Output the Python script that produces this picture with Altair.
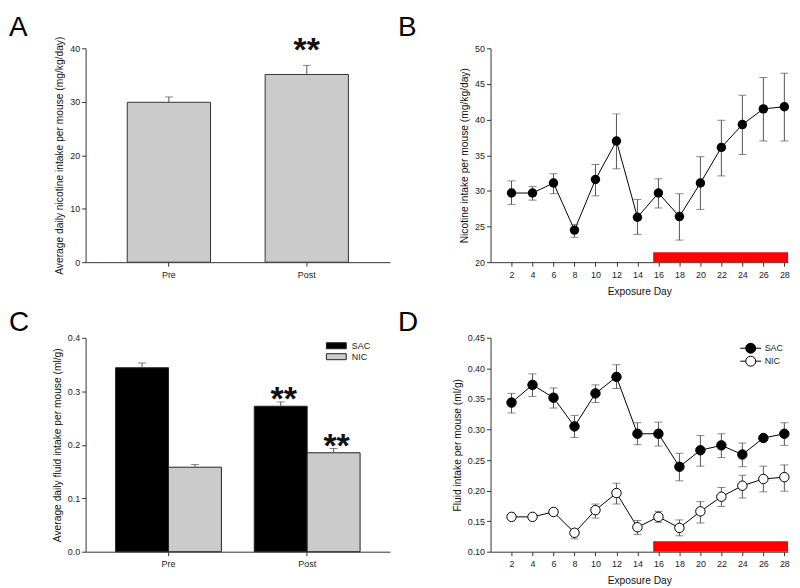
import altair as alt
import pandas as pd

FONT = "Liberation Sans"
LETTER_FONT = "Liberation Sans"
W, H = 306, 215
W_RIGHT = 299

# ---------------- data ----------------
a_phase = ["Pre", "Post"]
a_mean = [29.9, 35.1]
a_upper = [30.9, 36.8]
a_star_phase = ["Post"]
a_star_y = [37.6]

days = [2, 4, 6, 8, 10, 12, 14, 16, 18, 20, 22, 24, 26, 28]
b_mean = [29.7, 29.7, 31.1, 24.5, 31.6, 37.0, 26.3, 29.7, 26.4, 31.1, 36.1, 39.3, 41.5, 41.8]
b_low = [28.1, 28.7, 29.6, 23.5, 29.3, 33.1, 23.9, 27.6, 23.1, 27.4, 32.1, 35.1, 37.0, 37.0]
b_high = [31.4, 30.6, 32.4, 25.3, 33.7, 40.8, 28.8, 31.7, 29.6, 34.8, 39.9, 43.4, 45.9, 46.5]

groups = ["SAC", "NIC"]
c_phase = ["Pre", "Pre", "Post", "Post"]
c_group = ["SAC", "NIC", "SAC", "NIC"]
c_mean = [0.344, 0.158, 0.272, 0.185]
c_upper = [0.353, 0.163, 0.280, 0.193]
c_star_phase = ["Post", "Post"]
c_star_group = ["SAC", "NIC"]
c_star_y = [0.2645, 0.177]

d_sac_mean = [0.344, 0.373, 0.352, 0.305, 0.359, 0.386, 0.293, 0.293, 0.239, 0.266, 0.274, 0.259, 0.286, 0.293]
d_sac_low = [0.327, 0.354, 0.335, 0.287, 0.344, 0.367, 0.275, 0.273, 0.216, 0.240, 0.254, 0.239, 0.282, 0.274]
d_sac_high = [0.359, 0.391, 0.368, 0.323, 0.373, 0.406, 0.311, 0.312, 0.261, 0.290, 0.293, 0.278, 0.290, 0.311]
d_nic_mean = [0.157, 0.157, 0.165, 0.131, 0.168, 0.196, 0.140, 0.157, 0.139, 0.166, 0.190, 0.208, 0.219, 0.222]
d_nic_low = [0.154, 0.154, 0.161, 0.121, 0.155, 0.178, 0.128, 0.148, 0.126, 0.147, 0.174, 0.188, 0.198, 0.199]
d_nic_high = [0.161, 0.161, 0.168, 0.137, 0.178, 0.212, 0.151, 0.166, 0.152, 0.182, 0.205, 0.225, 0.240, 0.242]

day_axis_max = 28.35
exposure_start, exposure_end = 15.5, 28.35
b_bar = [20, 21.4]
d_bar = [0.10, 0.117]
panel_letters = ["A", "B", "C", "D"]

ERR = "#555555"


def letter(t, x, y):
    return alt.Chart(pd.DataFrame({"t": [t]})).mark_text(
        font=LETTER_FONT, fontSize=28, align="left", baseline="alphabetic", color="black"
    ).encode(x=alt.value(x), y=alt.value(y), text="t:N")


def yaxis(title, values, fmt=None):
    kw = dict(title=title, values=values)
    if fmt:
        kw["format"] = fmt
    return alt.Axis(**kw)


# ---------------- Panel A ----------------
dfA = pd.DataFrame({"phase": a_phase, "mean": a_mean, "upper": a_upper})
xA = alt.X("phase:N", sort=a_phase, scale=alt.Scale(paddingInner=0.396, paddingOuter=0.302),
           axis=alt.Axis(title=None, labelAngle=0))
yA_scale = alt.Scale(domain=[0, 40], nice=False)
axA = yaxis("Average daily nicotine intake per mouse (mg/kg/day)", [0, 10, 20, 30, 40])
barsA = alt.Chart(dfA).mark_bar(color="#cbcbcb", stroke="#333333", strokeWidth=1).encode(
    x=xA, y=alt.Y("mean:Q", scale=yA_scale, axis=axA))
errA = alt.Chart(dfA).mark_rule(color=ERR, strokeWidth=1).encode(
    x=xA, y=alt.Y("mean:Q", scale=yA_scale, axis=axA), y2="upper:Q")
capA = alt.Chart(dfA).mark_tick(color=ERR, orient="horizontal", size=8, thickness=1).encode(
    x=xA, y=alt.Y("upper:Q", scale=yA_scale, axis=axA))
starA = alt.Chart(pd.DataFrame({"phase": a_star_phase, "y": a_star_y, "t": ["**"]})).mark_text(
    font=FONT, fontSize=34, fontWeight="bold", baseline="alphabetic", color="#111111"
).encode(x=xA, y=alt.Y("y:Q", scale=yA_scale, axis=axA), text="t:N")
panelA = alt.layer(barsA, errA, capA, starA, letter(panel_letters[0], -77, -12)).properties(width=W, height=H)

# ---------------- Panel B ----------------
dfB = pd.DataFrame({"day": days, "mean": b_mean, "low": b_low, "high": b_high})
xB_scale = alt.Scale(domain=[0, day_axis_max], nice=False)
axBx = alt.Axis(title="Exposure Day", values=days)
yB_scale = alt.Scale(domain=[20, 50], nice=False)
axB = yaxis("Nicotine intake per mouse (mg/kg/day)", [20, 25, 30, 35, 40, 45, 50])
xB = alt.X("day:Q", scale=xB_scale, axis=axBx)
yB = alt.Y("mean:Q", scale=yB_scale, axis=axB)
exB = alt.Chart(pd.DataFrame({"x1": [exposure_start], "x2": [exposure_end],
                              "y1": [b_bar[0]], "y2": [b_bar[1]]})).mark_rect(color="#ff0000").encode(
    x=alt.X("x1:Q", scale=xB_scale, axis=axBx), x2="x2:Q",
    y=alt.Y("y1:Q", scale=yB_scale, axis=axB), y2="y2:Q")
errB = alt.Chart(dfB).mark_rule(color=ERR, strokeWidth=1).encode(
    x=xB, y=alt.Y("low:Q", scale=yB_scale, axis=axB), y2="high:Q")
capLB = alt.Chart(dfB).mark_tick(color=ERR, orient="horizontal", size=8, thickness=1).encode(
    x=xB, y=alt.Y("low:Q", scale=yB_scale, axis=axB))
capHB = alt.Chart(dfB).mark_tick(color=ERR, orient="horizontal", size=8, thickness=1).encode(
    x=xB, y=alt.Y("high:Q", scale=yB_scale, axis=axB))
lineB = alt.Chart(dfB).mark_line(color="black", strokeWidth=1).encode(x=xB, y=yB)
ptsB = alt.Chart(dfB).mark_circle(size=90, color="black", opacity=1).encode(x=xB, y=yB)
panelB = alt.layer(lineB, exB, errB, capLB, capHB, ptsB,
                   letter(panel_letters[1], -93, -12)).properties(width=W_RIGHT, height=H)

# ---------------- Panel C ----------------
dfC = pd.DataFrame({"phase": c_phase, "group": c_group, "mean": c_mean, "upper": c_upper})
xC = alt.X("phase:N", sort=["Pre", "Post"], scale=alt.Scale(paddingInner=0.237, paddingOuter=0.216),
           axis=alt.Axis(title=None, labelAngle=0))
xoC = alt.XOffset("group:N", sort=groups, scale=alt.Scale(domain=groups, paddingInner=0, paddingOuter=0))
yC_scale = alt.Scale(domain=[0, 0.4], nice=False)
axC = yaxis("Average daily fluid intake per mouse (ml/g)", [0, 0.1, 0.2, 0.3, 0.4], ".1f")
colorC = alt.Color("group:N", sort=groups,
                   scale=alt.Scale(domain=groups, range=["#000000", "#cbcbcb"]),
                   legend=alt.Legend(title=None, orient="none", legendX=247, legendY=3,
                                     symbolType="M-2.22,-0.67H2.22V0.67H-2.22Z", symbolSize=81,
                                     symbolStrokeColor="#222222", symbolStrokeWidth=1,
                                     labelFont=FONT, labelFontSize=9, labelColor="#222222",
                                     labelOffset=10.5, rowPadding=-3, padding=0))
barsC = alt.Chart(dfC).mark_bar(stroke="#222222", strokeWidth=1).encode(
    x=xC, xOffset=xoC, y=alt.Y("mean:Q", scale=yC_scale, axis=axC), color=colorC)
errC = alt.Chart(dfC).mark_rule(color=ERR, strokeWidth=1).encode(
    x=xC, xOffset=xoC, y=alt.Y("mean:Q", scale=yC_scale, axis=axC), y2="upper:Q")
capC = alt.Chart(dfC).mark_tick(color=ERR, orient="horizontal", size=8, thickness=1).encode(
    x=xC, xOffset=xoC, y=alt.Y("upper:Q", scale=yC_scale, axis=axC))
starC = alt.Chart(pd.DataFrame({"phase": c_star_phase, "group": c_star_group, "y": c_star_y,
                                "t": ["**", "**"]})).mark_text(
    font=FONT, fontSize=34, fontWeight="bold", baseline="alphabetic", color="#111111", dx=3
).encode(x=xC, xOffset=xoC, y=alt.Y("y:Q", scale=yC_scale, axis=axC), text="t:N")
panelC = alt.layer(barsC, errC, capC, starC, letter(panel_letters[2], -77, -7)).properties(width=W, height=H)

# ---------------- Panel D ----------------
dfD = pd.DataFrame({
    "day": days + days,
    "group": ["SAC"] * len(days) + ["NIC"] * len(days),
    "mean": d_sac_mean + d_nic_mean,
    "low": d_sac_low + d_nic_low,
    "high": d_sac_high + d_nic_high,
})
xD = alt.X("day:Q", scale=xB_scale, axis=axBx)
yD_scale = alt.Scale(domain=[0.10, 0.45], nice=False)
axD = yaxis("Fluid intake per mouse  (ml/g)",
            [0.10, 0.15, 0.20, 0.25, 0.30, 0.35, 0.40, 0.45], ".2f")
yD = alt.Y("mean:Q", scale=yD_scale, axis=axD)
exD = alt.Chart(pd.DataFrame({"x1": [exposure_start], "x2": [exposure_end],
                              "y1": [d_bar[0]], "y2": [d_bar[1]]})).mark_rect(color="#ff0000").encode(
    x=alt.X("x1:Q", scale=xB_scale, axis=axBx), x2="x2:Q",
    y=alt.Y("y1:Q", scale=yD_scale, axis=axD), y2="y2:Q")
errD = alt.Chart(dfD).mark_rule(color=ERR, strokeWidth=1).encode(
    x=xD, y=alt.Y("low:Q", scale=yD_scale, axis=axD), y2="high:Q", detail="group:N")
capLD = alt.Chart(dfD).mark_tick(color=ERR, orient="horizontal", size=8, thickness=1).encode(
    x=xD, y=alt.Y("low:Q", scale=yD_scale, axis=axD), detail="group:N")
capHD = alt.Chart(dfD).mark_tick(color=ERR, orient="horizontal", size=8, thickness=1).encode(
    x=xD, y=alt.Y("high:Q", scale=yD_scale, axis=axD), detail="group:N")
lineD = alt.Chart(dfD).mark_line(color="black", strokeWidth=1).encode(x=xD, y=yD, detail="group:N")
fillD = alt.Fill("group:N", sort=groups,
                 scale=alt.Scale(domain=groups, range=["#000000", "#ffffff"]),
                 legend=alt.Legend(title=None, orient="none", legendX=256, legendY=5,
                                   symbolType="M-2.1,0H-1M1,0H2.1M-1,0A1,1 0 1,0 1,0A1,1 0 1,0 -1,0Z",
                                   symbolSize=100, symbolStrokeColor="black", symbolStrokeWidth=1,
                                   labelFont=FONT, labelFontSize=9, labelColor="#222222",
                                   labelOffset=8.5, rowPadding=-2, padding=0))
ptsD = alt.Chart(dfD).mark_circle(size=90, stroke="black", strokeWidth=1, opacity=1).encode(
    x=xD, y=yD, fill=fillD)
panelD = alt.layer(lineD, exD, errD, capLD, capHD, ptsD,
                   letter(panel_letters[3], -93, -7)).properties(width=W_RIGHT, height=H)

chart = alt.ConcatChart(
    concat=[panelA, panelB, panelC, panelD], columns=2,
    spacing={"row": 12, "column": 8}, align="each",
    padding={"top": 5, "left": 1, "right": 0, "bottom": 0},
).resolve_scale(color="independent", fill="independent").configure_view(
    stroke=None
).configure_axis(
    labelFont=FONT, labelFontSize=9, labelColor="#222222",
    titleFont=FONT, titleFontSize=10.3, titleFontWeight="normal", titleColor="#111111",
    domainColor="#333333", tickColor="#333333", tickSize=4, grid=False, labelPadding=2,
).configure_axisX(labelPadding=4, titlePadding=7).configure_axisY(titlePadding=5)

chart.save("out.html", embed_options={"renderer": "svg", "actions": False})
